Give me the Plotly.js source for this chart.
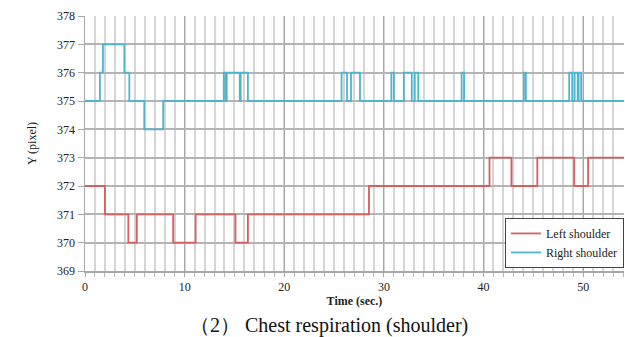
<!DOCTYPE html>
<html>
<head>
<meta charset="utf-8">
<script src="https://cdn.plot.ly/plotly-3.0.1.min.js"></script>
<style>html,body{margin:0;padding:0;background:#fff;}#chart{width:625px;height:337px;}</style>
</head>
<body>
<div id="chart"></div>
<script>
// Left shoulder: step change points (time in sec., Y in pixel)
const leftTime = [0, 2.0, 4.35, 5.2, 8.85, 11.1, 15.1, 16.35, 28.5, 40.6, 42.8, 45.4, 49.1, 50.5, 54.1];
const leftY    = [372, 371, 370, 371, 370, 371, 370, 371, 372, 373, 372, 373, 372, 373, 373];

// Right shoulder: step change points
const rightTime = [0, 1.5, 1.8, 3.95, 4.45, 5.95, 7.85, 13.93, 14.13, 14.23, 15.53, 15.63, 16.35,
                   25.75, 26.3, 26.7, 27.6, 30.75, 31.0, 32.0, 32.8, 33.1, 33.45, 37.8, 38.05,
                   44.05, 44.25, 48.6, 48.9, 49.15, 49.45, 49.55, 49.8, 54.1];
const rightY    = [375, 376, 377, 376, 375, 374, 375, 376, 375, 376, 375, 376, 375,
                   376, 375, 376, 375, 376, 375, 376, 375, 376, 375, 376, 375,
                   376, 375, 376, 375, 376, 375, 376, 375, 375];

const seriesNames = ['Left shoulder', 'Right shoulder'];
const xTicks = [0, 10, 20, 30, 40, 50];
const yTicks = [369, 370, 371, 372, 373, 374, 375, 376, 377, 378];
const xTitle = 'Time (sec.)';
const yTitle = 'Y (pixel)';
const caption = '（2）\u00a0Chest respiration (shoulder)';

const serif = '"Liberation Serif", "Times New Roman", serif';

const traces = [
  {x: leftTime, y: leftY, name: seriesNames[0], mode: 'lines', line: {shape: 'hv', color: '#d65f5f', width: 1.8}},
  {x: rightTime, y: rightY, name: seriesNames[1], mode: 'lines', line: {shape: 'hv', color: '#4fb4d0', width: 1.8}}
];

const layout = {
  width: 625, height: 337,
  margin: {l: 85, r: 1, t: 16, b: 66},
  paper_bgcolor: '#fff', plot_bgcolor: '#fff',
  font: {family: serif, size: 12, color: '#222'},
  showlegend: true,
  legend: {x: 1, xanchor: 'right', y: 0.012, yanchor: 'bottom', bgcolor: '#fff',
           bordercolor: '#444', borderwidth: 1, font: {family: serif, size: 12, color: '#222'},
           tracegroupgap: 0, itemwidth: 30},
  xaxis: {
    range: [0, 54.1], tickvals: xTicks, ticktext: xTicks.map(String),
    showgrid: true, gridcolor: '#a8a8a8', gridwidth: 1.2,
    minor: {dtick: 1, tick0: 0, showgrid: true, gridcolor: '#d6d6d6', gridwidth: 2, ticks: 'outside', ticklen: 4, tickcolor: '#b8b8b8'},
    ticks: 'outside', ticklen: 4, tickcolor: '#a8a8a8',
    showline: true, linecolor: '#a8a8a8', linewidth: 1.5,
    zeroline: false, tickfont: {family: serif, size: 12, color: '#222'},
    title: {text: '<b>' + xTitle + '</b>', font: {family: serif, size: 12, color: '#222'}, standoff: 2}
  },
  yaxis: {
    range: [369, 378], tickvals: yTicks, ticktext: yTicks.map(String),
    showgrid: true, gridcolor: '#b4b4b4', gridwidth: 2,
    ticks: 'outside', ticklen: 6, tickcolor: '#a8a8a8',
    showline: true, linecolor: '#a8a8a8', linewidth: 1.5,
    zeroline: false, tickfont: {family: serif, size: 12, color: '#222'},
    title: {text: yTitle, font: {family: serif, size: 12, color: '#222'}, standoff: 18}
  },
  annotations: [
    {text: caption, xref: 'paper', yref: 'paper', x: 0.452, y: -0.212, xanchor: 'center', yanchor: 'middle',
     showarrow: false, font: {family: serif, size: 20, color: '#111'}}
  ]
};

Plotly.newPlot('chart', traces, layout, {displayModeBar: false, staticPlot: true});
</script>
</body>
</html>
